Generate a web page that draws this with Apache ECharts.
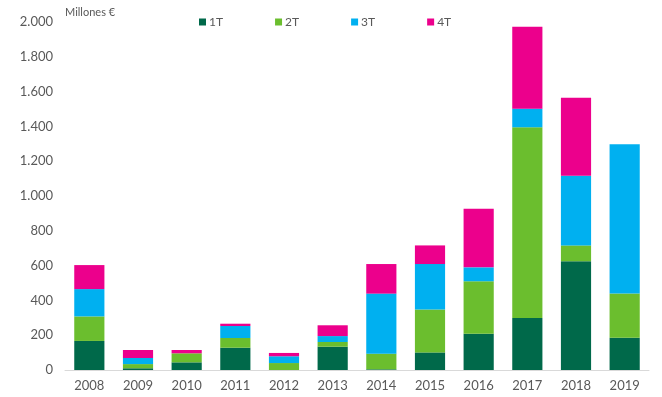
<!DOCTYPE html>
<html lang="es">
<head>
<meta charset="utf-8">
<title>Millones €</title>
<script src="https://cdn.jsdelivr.net/npm/echarts@6/dist/echarts.min.js"></script>
<style>
  html, body { margin: 0; padding: 0; background: #fff; }
  #chart { width: 662px; height: 397px; }
</style>
</head>
<body>
<div id="chart"></div>
<script>
// años
var years = ['2008', '2009', '2010', '2011', '2012', '2013', '2014', '2015', '2016', '2017', '2018', '2019'];
// trimestres (millones €)
var t1 = [167, 10, 44, 128, 0, 134, 4, 101, 209, 299, 625, 186];
var t2 = [141, 24, 52, 56, 40, 27, 90, 246, 301, 1096, 91, 253];
var t3 = [157, 35, 0, 69, 39, 34, 345, 262, 80, 107, 401, 858];
var t4 = [138, 46, 19, 13, 19, 62, 170, 107, 337, 471, 448, 0];
var seriesNames = ['1T', '2T', '3T', '4T'];
var colors = ['#00694A', '#6BBE2E', '#00B0F0', '#EC008C'];

var chart = echarts.init(document.getElementById('chart'));

function fmt(v) {
  return String(v).replace(/\B(?=(\d{3})+(?!\d))/g, '.');
}

var data = [t1, t2, t3, t4];
var series = seriesNames.map(function (n, i) {
  return {
    name: n,
    type: 'bar',
    stack: 'total',
    barCategoryGap: '38%',
    itemStyle: { color: colors[i] },
    data: data[i]
  };
});

var option = {
  textStyle: { fontFamily: 'Lato' },
  grid: { left: 65, right: 13, top: 22, bottom: 27 },
  legend: {
    data: seriesNames,
    top: 11,
    left: 194,
    itemGap: 52,
    itemWidth: 7,
    itemHeight: 7,
    icon: 'rect',
    textStyle: { color: '#595959', fontSize: 12, padding: [0, 0, 0, -2] }
  },
  xAxis: {
    type: 'category',
    data: years,
    axisLine: { lineStyle: { color: '#D9D9D9' } },
    axisTick: { show: false },
    axisLabel: { color: '#595959', fontSize: 13, margin: 9 }
  },
  yAxis: {
    type: 'value',
    min: 0,
    max: 2000,
    interval: 200,
    name: 'Millones €',
    nameLocation: 'end',
    nameGap: 0,
    nameTextStyle: { color: '#595959', fontSize: 11, align: 'left', padding: [0, 0, 4, 0] },
    splitLine: { show: false },
    axisLine: { show: false },
    axisTick: { show: false },
    axisLabel: { color: '#595959', fontSize: 13, margin: 12, formatter: fmt }
  },
  series: series
};

chart.setOption(option);
</script>
</body>
</html>
